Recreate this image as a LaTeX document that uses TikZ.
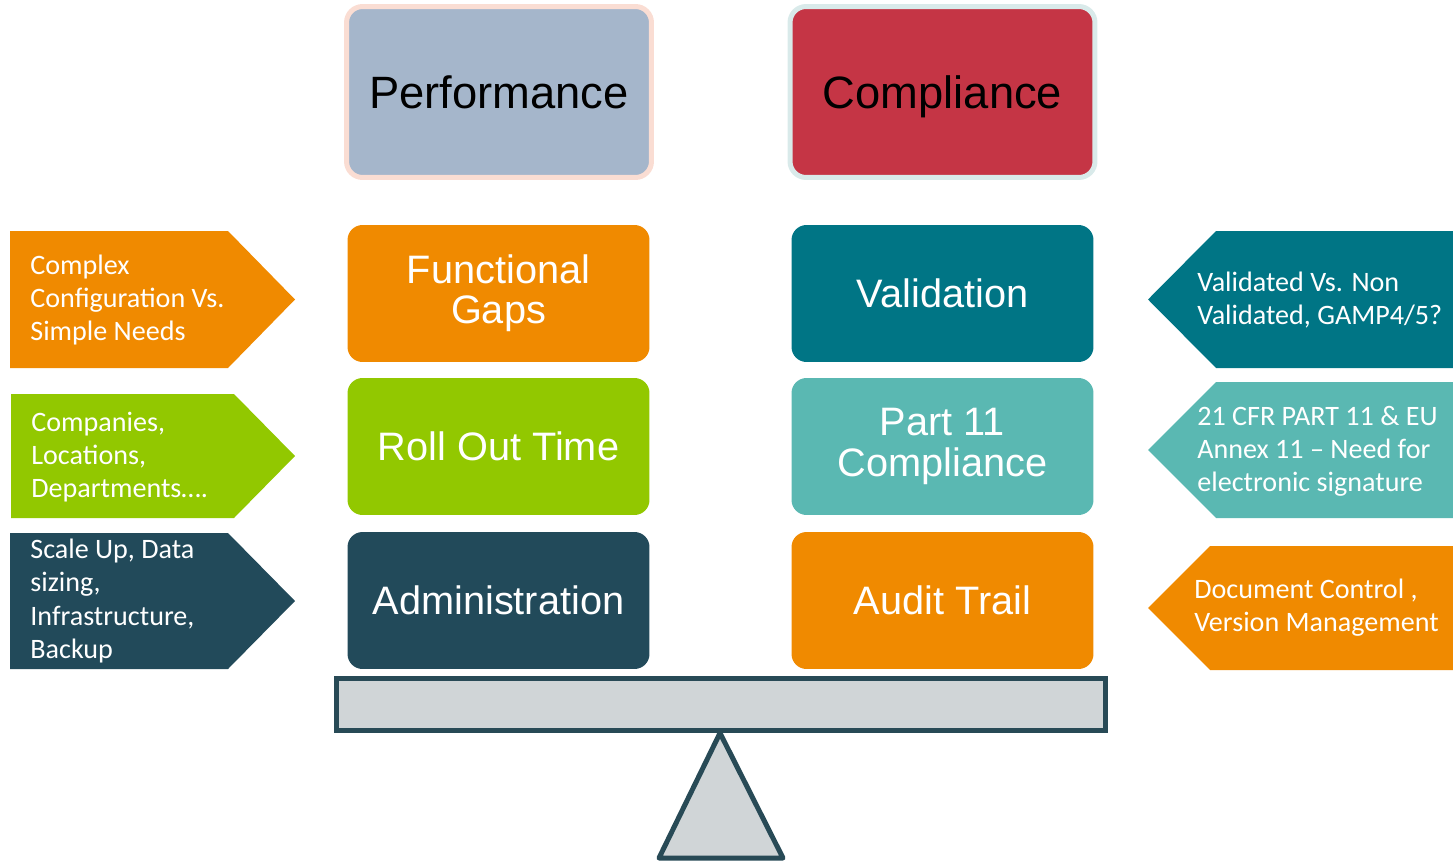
\documentclass[tikz,border=0pt]{standalone}
\usepackage{fontspec}
\setmainfont{Liberation Sans}
\newfontfamily\tagfont{Carlito}
\usetikzlibrary{positioning}

\definecolor{perfblue}{HTML}{A5B6CB}
\definecolor{perfrim}{HTML}{FADDD3}
\definecolor{compred}{HTML}{C53545}
\definecolor{comprim}{HTML}{D9EAEA}
\definecolor{orng}{HTML}{F08A00}
\definecolor{lime}{HTML}{92C800}
\definecolor{darkteal}{HTML}{224A5A}
\definecolor{teal}{HTML}{007585}
\definecolor{lteal}{HTML}{5AB8B2}
\definecolor{beamgrey}{HTML}{D0D5D7}
\definecolor{beamline}{HTML}{284A56}

\tikzset{
  headbox/.style={rectangle,rounded corners=0.32cm,line width=0.1cm,
    minimum width=6.1cm,minimum height=3.42cm,text height=18.5pt,text depth=0pt,
    font=\fontsize{25.8}{28}\selectfont},
  itembox/.style={rectangle,rounded corners=0.3cm,minimum width=6.04cm,
    minimum height=2.74cm,text=white,align=center,
    font=\fontsize{22.6}{23}\selectfont},
  tagtext/.style={anchor=west,text=white,align=left,inner sep=0pt,
    font=\tagfont\fontsize{16}{18.8}\selectfont},
}

\begin{document}
\begin{tikzpicture}[x=0.02cm,y=-0.02cm]
    \useasboundingbox (0,0) rectangle (1453,862);

    % the two sides of the scale
    \node[headbox,draw=perfrim,fill=perfblue] (perf) at (499,92) {Performance};
    \node[headbox,draw=comprim,fill=compred] (compl) at (942.5,92) {Compliance};

    \node[itembox,fill=orng] (func_gaps) at (498.5,293.5) {Functional\\Gaps};
    \node[itembox,fill=lime] (roll_out) at (498.5,446.5) {Roll Out Time};
    \node[itembox,fill=darkteal] (admin) at (498.5,600.5) {Administration};

    \node[itembox,fill=teal] (valid) at (942.5,293.5) {Validation};
    \node[itembox,fill=lteal] (part11) at (942.5,446.5) {Part 11\\Compliance};
    \node[itembox,fill=orng] (audit) at (942.5,600.5) {Audit Trail};

    % tags on the left
    \fill[orng] (10,231) -- (228,231) -- (295,299.5) -- (228,368) -- (10,368) -- cycle;
    \fill[lime] (11,394) -- (234,394) -- (295,456) -- (234,518) -- (11,518) -- cycle;
    \fill[darkteal] (10,533) -- (228,533) -- (295,601) -- (228,669) -- (10,669) -- cycle;
    \node[tagtext] (cfg_txt) at (30,300) {Complex\\Configuration Vs.\\Simple Needs};
    \node[tagtext] (comp_txt) at (31,457) {Companies,\\Locations,\\Departments\dots.};
    \node[tagtext] (scale_txt) at (30,601) {Scale Up, Data\\sizing,\\Infrastructure,\\Backup};

    % tags on the right
    \fill[teal] (1453,231) -- (1216,231) -- (1148,299.5) -- (1216,368) -- (1453,368) -- cycle;
    \fill[lteal] (1453,382) -- (1216,382) -- (1148,450) -- (1216,518) -- (1453,518) -- cycle;
    \fill[orng] (1453,546) -- (1210,546) -- (1148,608) -- (1210,670) -- (1453,670) -- cycle;
    \node[tagtext] (val_txt) at (1197,300) {Validated Vs. Non\\Validated, GAMP4/5?};
    \node[tagtext] (cfr_txt) at (1197,451) {21 CFR PART 11 \& EU\\Annex 11 – Need for\\electronic signature};
    \node[tagtext] (doc_txt) at (1194,608) {Document Control ,\\Version Management};

    % beam and pivot
    \node[rectangle,draw=beamline,fill=beamgrey,line width=0.1cm,
      minimum width=15.4cm,minimum height=1.04cm,inner sep=0pt] (beam) at (721,704.5) {};
    \coordinate (pivot) at (beam.south -| 720,0);
    \filldraw[draw=beamline,fill=beamgrey,line width=0.1cm,line join=round]
      (pivot) -- (783,858) -- (659,858) -- cycle;
\end{tikzpicture}
\end{document}
